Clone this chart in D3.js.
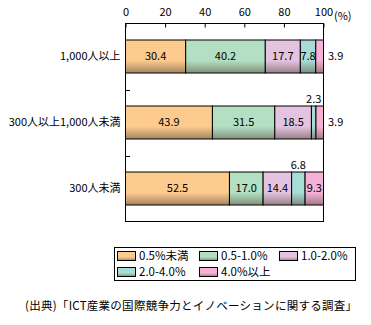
<!DOCTYPE html>
<html><head><meta charset="utf-8">
<script src="https://cdn.jsdelivr.net/npm/d3@7"></script>
<style>body{margin:0;background:#fff;} svg{display:block;}</style>
</head><body><svg id="c" width="371" height="325"></svg>
<script>
const categories = ["1,000人以上", "300人以上1,000人未満", "300人未満"];
const seriesNames = ["0.5%未満", "0.5-1.0%", "1.0-2.0%", "2.0-4.0%", "4.0%以上"];
const s05 = [30.4, 43.9, 52.5];
const s05_10 = [40.2, 31.5, 17.0];
const s10_20 = [17.7, 18.5, 14.4];
const s20_40 = [7.8, 2.3, 6.8];
const s40 = [3.9, 3.9, 9.3];
const tickValues = [0, 20, 40, 60, 80, 100];
const colors = ["#FDCB8D", "#B3E0C3", "#E3C3E0", "#A7DDD5", "#F7B0D8"];
const sourceText = "(出典)「ICT産業の国際競争力とイノベーションに関する調査」";

const series = [s05, s05_10, s10_20, s20_40, s40];
const svg = d3.select("#c");
const font = "'Noto Sans CJK JP', 'Noto Sans', sans-serif";

const x = d3.scaleLinear().domain([0, 100]).range([125.5, 323.5]);
const y = d3.scaleBand().domain(categories).range([23.5, 221.5]).paddingInner(0.5).paddingOuter(0.25);

// gradients
const defs = svg.append("defs");
colors.forEach((c, i) => {
  const g = defs.append("linearGradient").attr("id", "g" + i).attr("x1", 0).attr("y1", 0).attr("x2", 0).attr("y2", 1);
  const dark = d3.interpolateRgb(c, "#5a4a3a")(0.55);
  g.append("stop").attr("offset", "0.62").attr("stop-color", c);
  g.append("stop").attr("offset", "0.80").attr("stop-color", d3.interpolateRgb(c, "#5a4a3a")(0.25));
  g.append("stop").attr("offset", "1").attr("stop-color", dark);
});

// stacked data
const rows = categories.map((cat, ci) => {
  let acc = 0;
  return series.map((s, si) => {
    const seg = {cat, si, v: s[ci], x0: acc, x1: acc + s[ci]};
    acc += s[ci];
    return seg;
  });
});

const segs = rows.flat();
svg.append("g").selectAll("rect").data(segs).join("rect")
  .attr("x", d => x(d.x0))
  .attr("y", d => y(d.cat))
  .attr("width", d => Math.max(0, x(Math.min(d.x1, 100)) - x(d.x0)))
  .attr("height", y.bandwidth())
  .attr("fill", d => `url(#g${d.si})`)
  .attr("stroke", "#000").attr("stroke-width", 1);

// labels
svg.append("g").selectAll("text").data(segs).join("text")
  .attr("font-family", font).attr("font-size", 11).attr("fill", "#000")
  .each(function(d) {
    const w = x(d.x1) - x(d.x0);
    const t = d3.select(this).text(d.v.toFixed(1));
    if (d.si === series.length - 1 && w < 12) {
      t.attr("x", 328).attr("y", y(d.cat) + y.bandwidth() / 2).attr("dy", "0.36em").attr("text-anchor", "start");
    } else if (w < 14) {
      t.attr("x", (x(d.x0) + x(d.x1)) / 2).attr("y", y(d.cat) - 3).attr("text-anchor", "middle");
    } else {
      t.attr("x", (x(d.x0) + x(d.x1)) / 2).attr("y", y(d.cat) + y.bandwidth() / 2).attr("dy", "0.36em").attr("text-anchor", "middle");
    }
  });

// frame
svg.append("rect").attr("x", 125.5).attr("y", 23.5).attr("width", 198).attr("height", 198)
  .attr("fill", "none").attr("stroke", "#000").attr("stroke-width", 1);

// top axis
const xAxis = d3.axisTop(x).tickValues(tickValues).tickSize(-4).tickPadding(8).tickFormat(d3.format("d"));
const ga = svg.append("g").attr("transform", "translate(0,23.5)").call(xAxis);
ga.select(".domain").remove();
ga.selectAll("line").attr("stroke", "#000");
ga.selectAll("text").attr("font-family", font).attr("font-size", 11).attr("fill", "#000");
svg.append("text").attr("x", 334).attr("y", 19.5).attr("font-family", font).attr("font-size", 11).text("(%)");

// left axis
const yAxis = d3.axisLeft(y).tickSize(0).tickPadding(5);
const gl = svg.append("g").attr("transform", "translate(125.5,0)").call(yAxis);
gl.select(".domain").remove();
gl.selectAll("text").attr("font-family", font).attr("font-size", 11).attr("fill", "#000");
// inner band-boundary ticks
const bounds = categories.slice(1).map(c => y(c) - y.step() * y.paddingInner() / 2);
svg.append("g").selectAll("line").data(bounds).join("line")
  .attr("x1", 125.5).attr("x2", 130).attr("y1", d => Math.round(d) + 0.5).attr("y2", d => Math.round(d) + 0.5)
  .attr("stroke", "#000");

// legend
const lg = svg.append("g");
lg.append("rect").attr("x", 114.5).attr("y", 247.5).attr("width", 241).attr("height", 33)
  .attr("fill", "#fff").attr("stroke", "#000");
const legPos = [[117, 256], [199, 256], [279, 256], [117, 272], [199, 272]];
seriesNames.forEach((n, i) => {
  const [lx, ly] = legPos[i];
  lg.append("rect").attr("x", lx + 0.5).attr("y", ly - 4.5).attr("width", 18).attr("height", 9)
    .attr("fill", `url(#g${i})`).attr("stroke", "#000");
  lg.append("text").attr("x", lx + 22).attr("y", ly).attr("dy", "0.36em")
    .attr("font-family", font).attr("font-size", 11.5).text(n);
});

// source
svg.append("text").attr("x", 25).attr("y", 306).attr("dy", "0.36em")
  .attr("font-family", font).attr("font-size", 11.5)
  .attr("textLength", 332).attr("lengthAdjust", "spacing").text(sourceText);
</script></body></html>
